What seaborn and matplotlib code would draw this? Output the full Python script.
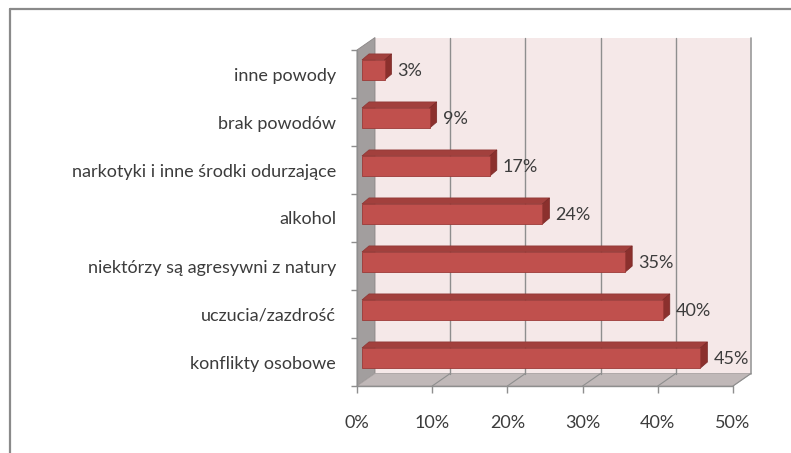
import matplotlib
matplotlib.use("Agg")
import matplotlib.pyplot as plt
import matplotlib.transforms as mtransforms
from matplotlib.patches import Polygon
from matplotlib.lines import Line2D
import seaborn as sns
import pandas as pd
import numpy as np

categories = ["inne powody", "brak powodów", "narkotyki i inne środki odurzające",
              "alkohol", "niektórzy są agresywni z natury", "uczucia/zazdrość",
              "konflikty osobowe"]
values = [0.03, 0.09, 0.17, 0.24, 0.35, 0.40, 0.45]
value_labels = ["3%", "9%", "17%", "24%", "35%", "40%", "45%"]
xticks = [0.0, 0.1, 0.2, 0.3, 0.4, 0.5]
xtick_labels = ["0%", "10%", "20%", "30%", "40%", "50%"]

sns.set_theme(style="white")
plt.rcParams["font.family"] = ["Lato", "DejaVu Sans"]

W, H, DPI = 791, 453, 100
fig = plt.figure(figsize=(W / DPI, H / DPI), dpi=DPI)
fig.patch.set_facecolor("white")

x0, x1 = 357, 733
ytop, ybot = 50, 386
ax = fig.add_axes([x0 / W, 1 - ybot / H, (x1 - x0) / W, (ybot - ytop) / H])

df = pd.DataFrame({"cat": categories, "val": values})
sns.barplot(data=df, x="val", y="cat", orient="h", color="#C0504D",
            width=0.42, ax=ax, edgecolor="#9C3A37", linewidth=0.6, saturation=1)
bars = list(ax.patches)

ax.set_xlim(0, 0.5)
ax.set_ylim(len(categories) - 0.5, -0.5)
ax.patch.set_visible(False)
for s in ax.spines.values():
    s.set_visible(False)

IDT = mtransforms.IdentityTransform()
DX, DY = 18, 12.5
BX, BY = 5, 4
TX, TY = 7, 6

def disp(x, y):
    return ax.transData.transform((x, y))

n = len(categories)
fl = disp(0, n - 0.5)
ftl = disp(0, -0.5)
fr = disp(0.5, n - 0.5)

wall_col = "#F5E8E8"
side_col = "#A29E9E"
floor_col = "#C0B8B8"
grid_col = "#8E8E8E"

def add_poly(pts, **kw):
    p = Polygon(pts, closed=True, transform=IDT, **kw)
    p.set_clip_on(False)
    ax.add_artist(p)
    return p

def add_line(xs, ys, **kw):
    l = Line2D(xs, ys, transform=IDT, **kw)
    l.set_clip_on(False)
    ax.add_line(l)
    return l

add_poly([(fl[0] + DX, fl[1] + DY), (fr[0] + DX, fr[1] + DY),
          (fr[0] + DX, ftl[1] + DY), (ftl[0] + DX, ftl[1] + DY)],
         facecolor=wall_col, edgecolor="none", zorder=0)
add_line([fr[0] + DX, fr[0] + DX], [fr[1] + DY, ftl[1] + DY], color="#9A9A9A",
         linewidth=1.2, zorder=0.6)
add_poly([fl, ftl, (ftl[0] + DX, ftl[1] + DY), (fl[0] + DX, fl[1] + DY)],
         facecolor=side_col, edgecolor="#8A8686", linewidth=0.6, zorder=0.5)
add_poly([fl, fr, (fr[0] + DX, fr[1] + DY), (fl[0] + DX, fl[1] + DY)],
         facecolor=floor_col, edgecolor="#A8A2A2", linewidth=0.6, zorder=0.5)

for xv in xticks[1:-1]:
    b = disp(xv, n - 0.5)
    t = disp(xv, -0.5)
    add_line([b[0] + DX, t[0] + DX], [b[1] + DY, t[1] + DY],
             color=grid_col, linewidth=1.0, zorder=0.6)
for xv in xticks[1:]:
    b = disp(xv, n - 0.5)
    add_line([b[0], b[0] + DX], [b[1], b[1] + DY], color=grid_col, linewidth=0.8, zorder=0.6)

add_line([fl[0], fr[0]], [fl[1], fr[1]], color=grid_col, linewidth=1.0, zorder=0.7)
add_line([fl[0], ftl[0]], [fl[1], ftl[1]], color=grid_col, linewidth=1.0, zorder=0.7)

for p in bars:
    p.set_transform(ax.transData + mtransforms.Affine2D().translate(BX, BY))
    p.set_zorder(2)
    p.set_clip_on(False)
    xa, ya = p.get_x(), p.get_y()
    w, h = p.get_width(), p.get_height()
    tl = disp(xa, ya)
    tr = disp(xa + w, ya)
    br = disp(xa + w, ya + h)
    tl = (tl[0] + BX, tl[1] + BY)
    tr = (tr[0] + BX, tr[1] + BY)
    br = (br[0] + BX, br[1] + BY)
    add_poly([tl, tr, (tr[0] + TX, tr[1] + TY), (tl[0] + TX, tl[1] + TY)],
             facecolor="#A2403D", edgecolor="#8E3532", linewidth=0.5, zorder=1.9)
    add_poly([tr, br, (br[0] + TX, br[1] + TY), (tr[0] + TX, tr[1] + TY)],
             facecolor="#8B302D", edgecolor="#7A2826", linewidth=0.5, zorder=1.9)

for i, (v, lab) in enumerate(zip(values, value_labels)):
    ax.annotate(lab, xy=(v, i), xytext=(BX + TX + 6, BY - 1), textcoords="offset pixels",
                ha="left", va="center", fontsize=13, color="#3C3C3C",
                annotation_clip=False)

ax.set_xticks(xticks)
ax.set_xticklabels(xtick_labels)
ax.set_yticks(range(n))
ax.set_yticklabels(categories)
ax.set_yticks(np.arange(-0.5, n, 1.0), minor=True)
ax.tick_params(axis="y", which="major", length=0, pad=15, labelsize=13, labelcolor="#3C3C3C")
ax.tick_params(axis="y", which="minor", length=4, width=1, color=grid_col, left=True)
ax.tick_params(axis="x", which="major", length=5, width=1, color=grid_col, bottom=True,
               pad=16, labelsize=13, labelcolor="#3C3C3C")
ax.set_xlabel("")
ax.set_ylabel("")
ax.grid(False)

fig.add_artist(Line2D([10 / W, 10 / W], [0, 1 - 9 / H], transform=fig.transFigure,
                      color="#8A8A8A", linewidth=1.6))
fig.add_artist(Line2D([10 / W, 1], [1 - 9 / H, 1 - 9 / H], transform=fig.transFigure,
                      color="#8A8A8A", linewidth=1.6))

fig.savefig("out.png", dpi=DPI, facecolor="white")
